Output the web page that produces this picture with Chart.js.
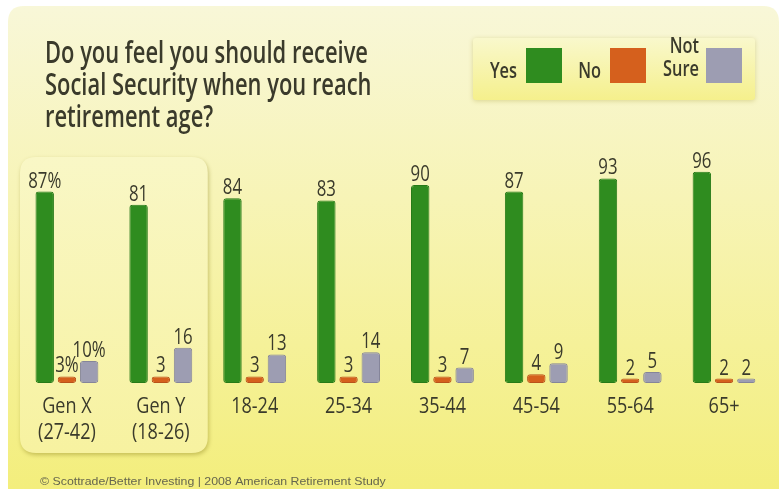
<!DOCTYPE html>
<html>
<head>
<meta charset="utf-8">
<script src="https://cdn.jsdelivr.net/npm/chart.js@4.4.1/dist/chart.umd.min.js"></script>
<style>
  html, body { margin: 0; padding: 0; background: #fff; }
  #grafico { display: block; }
</style>
</head>
<body>
<canvas id="grafico" width="779" height="489"></canvas>
<script>
// dados da pesquisa (%)
const categorias = [["Gen X", "(27-42)"], ["Gen Y", "(18-26)"], "18-24", "25-34", "35-44", "45-54", "55-64", "65+"];
const sim = [87, 81, 84, 83, 90, 87, 93, 96];
const nao = [3, 3, 3, 3, 3, 4, 2, 2];
const naoSei = [10, 16, 13, 14, 7, 9, 5, 2];
const series = ["Yes", "No", "Not Sure"];
const cores = ["#2f8c1f", "#d5601d", "#9d9db2"];
const bordas = ["#277a18", "#b9521a", "#85859a"];
const titulo = ["Do you feel you should receive", "Social Security when you reach", "retirement age?"];
const rodape = "\u00A9 Scottrade/Better Investing | 2008 American Retirement Study";

const FAMILIA = '"Open Sans", "Noto Sans", sans-serif';
const TEXTO = "#3a3a2b";
const ESTREITO = 0.82; // fonte condensada simulada

function caixaArredondada(ctx, x, y, w, h, r) {
  ctx.beginPath();
  ctx.moveTo(x + r, y);
  ctx.lineTo(x + w - r, y);
  ctx.quadraticCurveTo(x + w, y, x + w, y + r);
  ctx.lineTo(x + w, y + h - r);
  ctx.quadraticCurveTo(x + w, y + h, x + w - r, y + h);
  ctx.lineTo(x + r, y + h);
  ctx.quadraticCurveTo(x, y + h, x, y + h - r);
  ctx.lineTo(x, y + r);
  ctx.quadraticCurveTo(x, y, x + r, y);
  ctx.closePath();
}

// texto com escala horizontal
function escreve(ctx, txt, x, y, k) {
  ctx.save();
  ctx.translate(x, y);
  ctx.scale(k, 1);
  ctx.fillText(txt, 0, 0);
  ctx.restore();
}

// painel amarelo, destaque das gerações, título, legenda e rodapé
const fundo = {
  id: "fundo",
  beforeDraw(chart) {
    const { ctx, width, height } = chart;
    const x = chart.scales.x;
    ctx.save();
    ctx.fillStyle = "#ffffff";
    ctx.fillRect(0, 0, width, height);

    const g = ctx.createLinearGradient(0, 6, 0, height);
    g.addColorStop(0, "#f8f7d8");
    g.addColorStop(0.4, "#f7f4b6");
    g.addColorStop(1, "#f3ee7c");
    ctx.fillStyle = g;
    caixaArredondada(ctx, 8, 6, width - 8, height + 20, 16);
    ctx.fill();

    // caixa Gen X / Gen Y
    const passo = x.getPixelForValue(1) - x.getPixelForValue(0);
    const esq = x.getPixelForValue(0) - passo / 2;
    const dir = x.getPixelForValue(1) + passo / 2;
    const gb = ctx.createLinearGradient(0, 157, 0, 453);
    gb.addColorStop(0, "#f9f7c6");
    gb.addColorStop(1, "#f7f2a0");
    ctx.shadowColor = "rgba(140, 130, 30, 0.45)";
    ctx.shadowBlur = 4;
    ctx.shadowOffsetX = 1;
    ctx.shadowOffsetY = 2;
    ctx.fillStyle = gb;
    caixaArredondada(ctx, esq, 157, dir - esq, 296, 16);
    ctx.fill();

    // caixa da legenda
    const gl = ctx.createLinearGradient(0, 38, 0, 100);
    gl.addColorStop(0, "#f9f8cc");
    gl.addColorStop(1, "#f5f08c");
    ctx.shadowColor = "rgba(160, 150, 40, 0.35)";
    ctx.shadowBlur = 5;
    ctx.shadowOffsetX = 0;
    ctx.shadowOffsetY = 1;
    ctx.fillStyle = gl;
    caixaArredondada(ctx, 473, 38, 282, 62, 3);
    ctx.fill();
    ctx.shadowColor = "transparent";

    // itens da legenda
    const posLegenda = [526, 610, 706];
    chart.data.datasets.forEach((ds, i) => {
      const qx = posLegenda[i];
      ctx.fillStyle = ds.backgroundColor;
      ctx.fillRect(qx, 48, 36, 35);
      ctx.fillStyle = TEXTO;
      ctx.font = "600 21px " + FAMILIA;
      ctx.textAlign = "right";
      ctx.textBaseline = "middle";
      const linhas = ds.label.split(" ");
      if (linhas.length === 1) {
        escreve(ctx, linhas[0], qx - 9, 72, 0.78);
      } else {
        escreve(ctx, linhas[0], qx - 7, 47, 0.78);
        escreve(ctx, linhas[1], qx - 7, 70, 0.78);
      }
    });

    // título
    ctx.fillStyle = TEXTO;
    ctx.font = "600 30px " + FAMILIA;
    ctx.textAlign = "left";
    ctx.textBaseline = "alphabetic";
    const kTitulo = 323 / ctx.measureText(titulo[0]).width;
    titulo.forEach((linha, i) => escreve(ctx, linha, 45, 63 + i * 32, kTitulo));

    // rodapé
    ctx.fillStyle = "#66664e";
    ctx.font = "11px 'Liberation Sans', Arial, sans-serif";
    escreve(ctx, rodape, 40, 485, 1.12);
    ctx.restore();
  }
};

// valores sobre as barras e nomes das categorias
const rotulos = {
  id: "rotulos",
  afterDatasetsDraw(chart) {
    const ctx = chart.ctx;
    const x = chart.scales.x;
    ctx.save();
    ctx.fillStyle = TEXTO;
    ctx.font = "500 21px " + FAMILIA;
    ctx.textAlign = "center";
    ctx.textBaseline = "alphabetic";
    chart.data.datasets.forEach((ds, i) => {
      chart.getDatasetMeta(i).data.forEach((barra, j) => {
        const txt = ds.data[j] + (j === 0 ? "%" : "");
        escreve(ctx, txt, barra.x, barra.y - 4, 0.8);
      });
    });

    ctx.font = "500 22px " + FAMILIA;
    ctx.textBaseline = "middle";
    x.ticks.forEach((t, i) => {
      const rotulo = chart.data.labels[t.value];
      const linhas = Array.isArray(rotulo) ? rotulo : [rotulo];
      linhas.forEach((linha, k) => escreve(ctx, linha, x.getPixelForTick(i), x.top + 24 + k * 26, ESTREITO));
    });
    ctx.restore();
  }
};

const valores = [sim, nao, naoSei];

new Chart(document.getElementById("grafico"), {
  type: "bar",
  data: {
    labels: categorias,
    datasets: series.map((nome, i) => ({
      label: nome,
      data: valores[i],
      backgroundColor: cores[i],
      borderColor: bordas[i],
      borderWidth: 1,
      borderRadius: 3,
      borderSkipped: false,
      categoryPercentage: 0.71,
      barPercentage: 0.83
    }))
  },
  options: {
    responsive: false,
    animation: false,
    layout: { padding: { left: 20, right: 8, top: 163, bottom: 36 } },
    scales: {
      y: { display: false, min: 0, max: 100 },
      x: {
        grid: { display: false, drawTicks: false },
        border: { display: false },
        ticks: { display: false, autoSkip: false },
        afterFit(scale) { scale.height = 70; }
      }
    },
    plugins: {
      legend: { display: false },
      tooltip: { enabled: false }
    }
  },
  plugins: [fundo, rotulos]
});
</script>
</body>
</html>
